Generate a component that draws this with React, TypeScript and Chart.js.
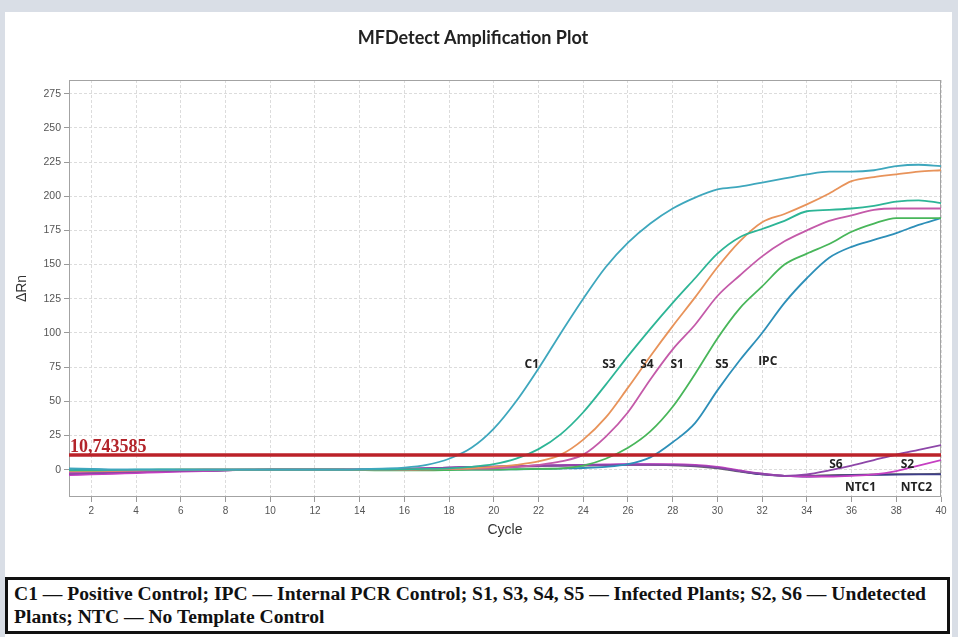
import React, { useEffect, useRef } from "react";
import { Chart, registerables } from "chart.js";
Chart.register(...registerables);

const CYCLES = [1, 2, 3, 4, 5, 6, 7, 8, 9, 10, 11, 12, 13, 14, 15, 16, 17, 18, 19, 20, 21, 22, 23, 24, 25, 26, 27, 28, 29, 30, 31, 32, 33, 34, 35, 36, 37, 38, 39, 40];
const X_TICKS = [2, 4, 6, 8, 10, 12, 14, 16, 18, 20, 22, 24, 26, 28, 30, 32, 34, 36, 38, 40];
const Y_TICKS = [0, 25, 50, 75, 100, 125, 150, 175, 200, 225, 250, 275];

const THRESHOLD = 10.743585;
const THRESHOLD_LABEL = "10,743585";

const C1 = [1, 0.5, 0, 0, 0, 0, 0, 0, 0, 0, 0, 0, 0, 0.3, 0.8, 1.5, 3.5, 8, 16, 30, 50, 74, 100, 125, 148, 166, 180, 191, 199, 205, 207, 210, 213, 216, 218, 218, 219, 222, 223, 222];
const S3 = [-0.5, -0.5, -0.3, 0, 0, 0, 0, 0, 0, 0, 0, 0, 0, 0, 0, 0.2, 0.5, 1, 2, 4, 8, 15, 26, 42, 62, 83, 103, 122, 140, 158, 170, 176, 182, 189, 190, 191, 193, 196, 197, 195];
const S4 = [-1, -1, -0.8, -0.5, -0.3, 0, 0, 0, 0, 0, 0, 0, 0, 0, 0, 0, 0.2, 0.5, 1, 2, 3.5, 6, 11, 22, 38, 60, 83, 105, 126, 148, 167, 181, 187, 194, 202, 211, 214, 216, 218, 219];
const S1 = [-2, -1.5, -1, -0.8, -0.5, -0.3, 0, 0, 0, 0, 0, 0, 0, 0, 0, 0, 0.2, 0.5, 0.8, 1, 2, 3.5, 6, 11, 24, 42, 66, 88, 106, 127, 142, 156, 167, 175, 182, 186, 190, 191, 191, 191];
const S5 = [-1, -1, -0.5, -0.3, 0, 0, 0, 0, 0, 0, 0, 0, 0, -0.3, -0.5, -0.5, -0.5, -0.3, 0, 0, 0.3, 0.6, 1, 3, 8, 16, 28, 46, 70, 96, 118, 134, 150, 158, 165, 174, 180, 184, 184, 184];
const IPC = [0.5, 0.3, 0, 0, 0, 0, 0, 0, 0, 0, 0, 0, 0, 0, 0, 0, 0, 0, 0, 0, 0.2, 0.5, 0.8, 1.2, 2, 4, 9, 20, 34, 58, 80, 100, 122, 140, 155, 163, 168, 173, 179, 184];
const S6 = [-3, -2.5, -2, -1.5, -1, -0.8, -0.5, -0.2, 0, 0, 0, 0, 0, 0, 0.3, 0.6, 1, 1.5, 2, 2, 2.5, 3, 3, 3.5, 3.5, 3.5, 3.5, 3.5, 3, 1.5, -1, -3, -4.5, -3.5, -0.5, 3, 7, 11, 14.5, 18];
const S2 = [-4, -3.5, -3, -2.5, -2, -1.5, -1, -0.5, -0.2, 0, 0, 0, 0, 0, 0.3, 0.6, 1, 1.5, 2, 2.2, 2.5, 3, 3.2, 3.5, 3.8, 4, 4, 4, 3.5, 2, -0.5, -3, -4.5, -5, -5, -4.5, -3.5, -1, 3, 7];
const NTC1 = [-3.5, -3, -2.5, -2, -1.5, -1, -0.8, -0.5, -0.2, 0, 0, 0, 0, 0, 0.3, 0.6, 1, 1.5, 2, 2.2, 2.5, 3, 3.2, 3.5, 3.5, 3.8, 3.8, 3.5, 3, 1.5, -1, -3.5, -4.5, -5, -4.5, -4, -3.8, -3.6, -3.5, -3.5];
const NTC2 = [-2.5, -2, -1.8, -1.5, -1.2, -1, -0.8, -0.5, -0.2, 0, 0, 0, 0, 0, 0.2, 0.5, 0.8, 1, 1.5, 2, 2.2, 2.5, 3, 3, 3.2, 3.5, 3.5, 3.2, 2.5, 1, -1.5, -3.5, -4.5, -4.5, -4, -3.8, -3.5, -3.3, -3.2, -3];

const SERIES_NAMES = ["C1", "S3", "S4", "S1", "S5", "IPC", "S6", "S2", "NTC1", "NTC2"];
const SERIES_VALUES = [C1, S3, S4, S1, S5, IPC, S6, S2, NTC1, NTC2];
const SERIES_COLORS = ["#3ea7bd", "#2db596", "#e8935a", "#c45aa9", "#48b65a", "#2d8fb8", "#8d46a8", "#c63fc2", "#3d3d8a", "#6a6a6a"];

const LABEL_TEXTS = ["C1", "S3", "S4", "S1", "S5", "IPC", "S6", "S2", "NTC1", "NTC2"];
const LABEL_CYCLES = [21.7, 25.15, 26.85, 28.2, 30.2, 32.25, 35.3, 38.5, 36.4, 38.9];
const LABEL_VALUES = [76.5, 76.5, 76.5, 76.5, 76.5, 78.7, 3.6, 3.6, -13, -13];

const TITLE = "MFDetect Amplification Plot";
const NOTE_LINE1 = "C1 — Positive Control; IPC — Internal PCR Control; S1, S3, S4, S5 — Infected Plants; S2, S6 — Undetected";
const NOTE_LINE2 = "Plants; NTC — No Template Control";

const labelPlugin = {
  id: "curveLabels",
  beforeDatasetsDraw(chart: any) {
    const { ctx, chartArea } = chart;
    ctx.save();
    ctx.strokeStyle = "#a3a3a3";
    ctx.lineWidth = 1;
    ctx.strokeRect(chartArea.left + 0.5, chartArea.top + 0.5, chartArea.right - chartArea.left - 1, chartArea.bottom - chartArea.top - 1);
    ctx.restore();
  },
  afterDatasetsDraw(chart: any) {
    const { ctx } = chart;
    const x = chart.scales.x;
    const y = chart.scales.y;
    ctx.save();
    ctx.font = 'bold 12px "Open Sans"';
    ctx.fillStyle = "#222";
    ctx.textAlign = "center";
    ctx.textBaseline = "middle";
    LABEL_TEXTS.forEach((t, i) => {
      ctx.fillText(t, x.getPixelForValue(LABEL_CYCLES[i]), y.getPixelForValue(LABEL_VALUES[i]));
    });
    ctx.font = 'bold 18px "Liberation Serif"';
    ctx.fillStyle = "#b3242a";
    ctx.textAlign = "left";
    ctx.textBaseline = "alphabetic";
    ctx.fillText(THRESHOLD_LABEL, x.left + 1, y.getPixelForValue(THRESHOLD) - 3);
    ctx.restore();
  },
};

export default function App() {
  const ref = useRef<HTMLCanvasElement>(null);
  useEffect(() => {
    if (!ref.current) return;
    const datasets: any[] = [
      {
        label: "Threshold",
        data: [CYCLES[0], CYCLES[CYCLES.length - 1]].map((c) => ({ x: c, y: THRESHOLD })),
        borderColor: "#bb2229",
        borderWidth: 3.5,
        pointRadius: 0,
        tension: 0,
      },
    ];
    SERIES_NAMES.forEach((n, i) => {
      datasets.push({
        label: n,
        data: SERIES_VALUES[i].map((v, j) => ({ x: CYCLES[j], y: v })),
        borderColor: SERIES_COLORS[i],
        borderWidth: 1.8,
        pointRadius: 0,
        cubicInterpolationMode: "monotone",
      });
    });
    const chart = new Chart(ref.current, {
      type: "line",
      data: { datasets },
      options: {
        animation: false,
        responsive: false,
        maintainAspectRatio: false,
        layout: { padding: { left: 5, right: 17, top: 0, bottom: 10 } },
        plugins: {
          legend: { display: false },
          tooltip: { enabled: false },
          title: {
            display: true,
            text: TITLE,
            color: "#222",
            font: { family: "Lato", size: 18, weight: "bold", lineHeight: 1.2 },
            padding: { top: 27.2, bottom: 31.2 },
          },
        },
        scales: {
          x: {
            type: "linear",
            min: 1,
            max: 40,
            afterBuildTicks: (s: any) => {
              s.ticks = X_TICKS.map((v) => ({ value: v }));
            },
            afterFit: (s: any) => {
              s.height = 53;
            },
            ticks: { color: "#555", font: { family: "Liberation Sans", size: 10 }, padding: 3, maxRotation: 0, autoSkip: false },
            grid: { color: "#dcdcdc", tickLength: 5, tickColor: "#999" },
            border: { display: false, dash: [3, 2] },
            title: { display: true, text: "Cycle", color: "#333", font: { family: "Liberation Sans", size: 14, lineHeight: 1.2 }, padding: { top: 0, bottom: 11.6 } },
          },
          y: {
            min: -20,
            max: 285,
            afterBuildTicks: (s: any) => {
              s.ticks = Y_TICKS.map((v) => ({ value: v }));
            },
            afterFit: (s: any) => {
              s.width = 64;
            },
            ticks: { color: "#555", font: { family: "Liberation Sans", size: 10.5 }, padding: 3 },
            grid: { color: "#dcdcdc", tickLength: 5, tickColor: "#999" },
            border: { display: false, dash: [3, 2] },
            title: { display: true, text: "ΔRn", color: "#333", font: { family: "Liberation Sans", size: 14, lineHeight: 1.2 }, padding: { top: 8.5, bottom: 0 } },
          },
        },
      },
      plugins: [labelPlugin],
    } as any);
    return () => chart.destroy();
  }, []);

  return (
    <div style={{ position: "fixed", left: 0, top: 0, width: 958, height: 637, background: "#d9dee6", overflow: "hidden" }}>
      <div style={{ position: "absolute", left: 5, top: 12, width: 947, height: 625, background: "#fff" }} />
      <canvas ref={ref} width={958} height={560} style={{ position: "absolute", left: 0, top: 0, width: 958, height: 560 }} />
      <div
        style={{
          position: "absolute",
          left: 5,
          top: 577,
          width: 945,
          height: 57,
          boxSizing: "border-box",
          border: "3px solid #111",
          padding: "2px 6px",
          fontFamily: '"Liberation Serif", serif',
          fontWeight: "bold",
          fontSize: 19.6,
          lineHeight: "23px",
          color: "#111",
          whiteSpace: "nowrap",
          background: "#fff",
          overflow: "hidden",
        }}
      >
        {NOTE_LINE1}
        <br />
        {NOTE_LINE2}
      </div>
    </div>
  );
}
